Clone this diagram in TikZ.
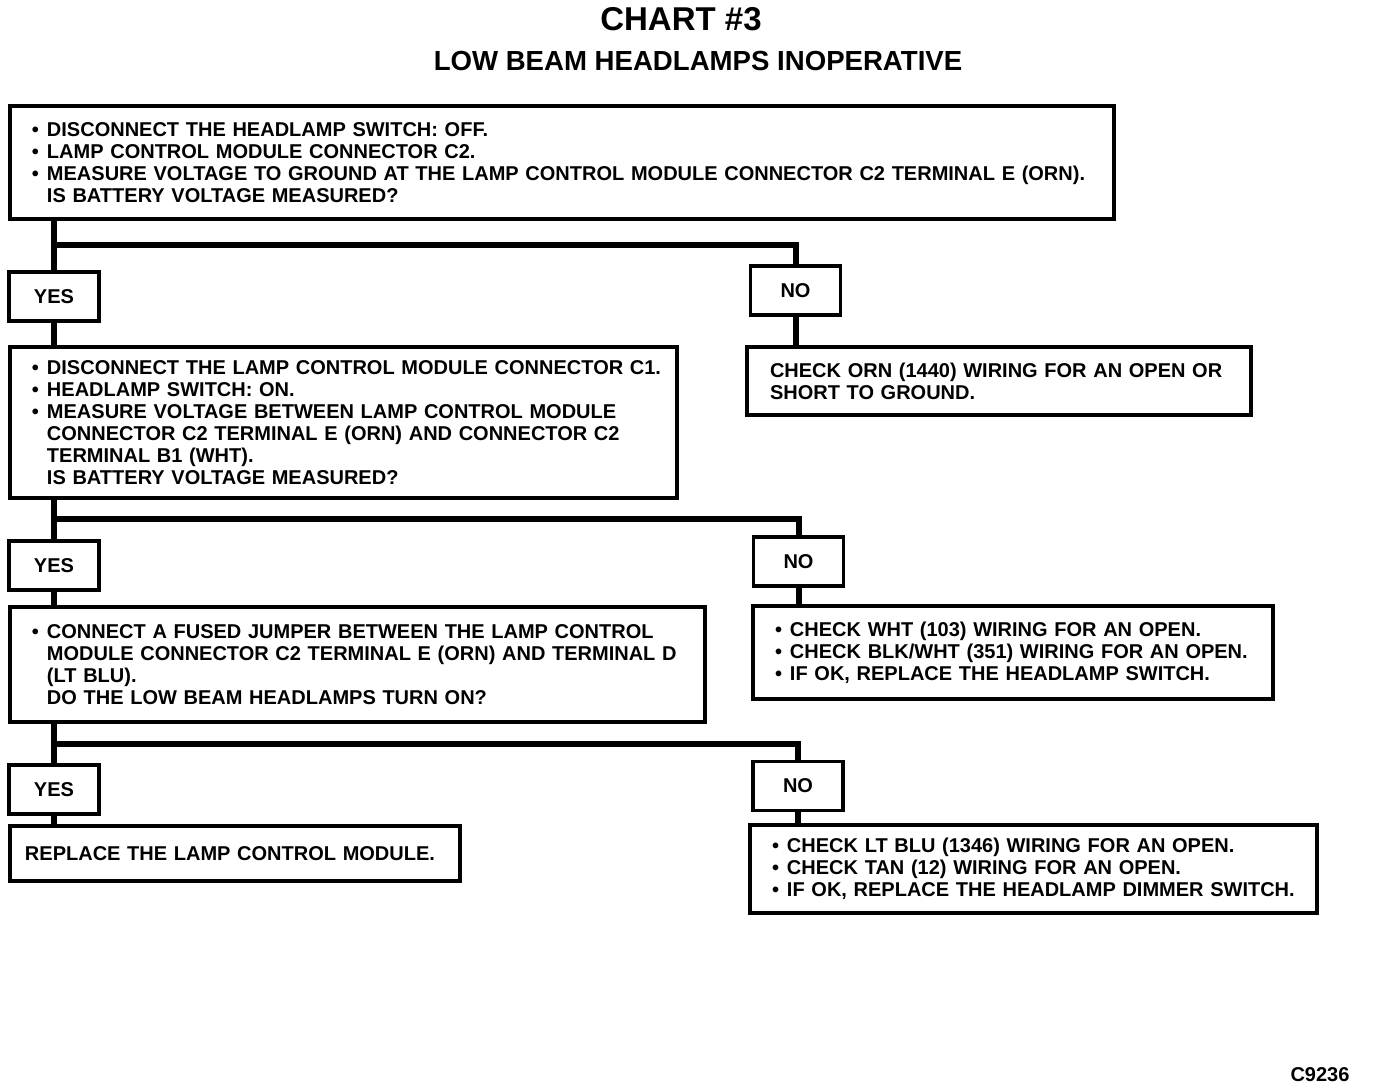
\documentclass[tikz,border=0pt]{standalone}
\usepackage{fontspec}
\setmainfont{Liberation Sans}
\newcommand{\lmpbul}{\hspace*{3.5pt}\makebox[7.5pt][l]{\textbullet}}
\newcommand{\lmpind}{\hspace*{11pt}}
\tikzset{
  stepbox/.style={draw, line width=1.7pt, anchor=north west, outer sep=0pt,
    align=left, inner xsep=7.5pt, inner ysep=0pt,
    font=\bfseries\fontsize{10}{11}\selectfont},
  answer/.style={draw, line width=1.7pt, outer sep=0pt, minimum width=45pt,
    minimum height=24.5pt, font=\bfseries\fontsize{10}{11}\selectfont},
  wire/.style={line width=3pt},
}
\begin{document}
\begin{tikzpicture}[x=0.5pt, y=-0.5pt]
				\useasboundingbox (0,0) rectangle (1376,1088);
				% title
				\node[font=\bfseries\fontsize{16.5}{18}\selectfont] (title) at (681,19) {CHART \#3};
				\node[font=\bfseries\fontsize{13.8}{15}\selectfont] (subtitle) at (698,61) {LOW BEAM HEADLAMPS INOPERATIVE};
				% first test
				\node[stepbox, text width=537pt, minimum height=56.5pt] (q1) at (10,106) {%
					\lmpbul DISCONNECT THE HEADLAMP SWITCH: OFF.\\
					\lmpbul LAMP CONTROL MODULE CONNECTOR C2.\\
					\lmpbul MEASURE VOLTAGE TO GROUND AT THE LAMP CONTROL MODULE CONNECTOR C2 TERMINAL E (ORN).\\
					\lmpind IS BATTERY VOLTAGE MEASURED?};
				\node[answer] (yes1) at (54,296.5) {YES};
				\node[answer] (no1) at (795.5,290.5) {NO};
				\node[stepbox, inner xsep=11.5pt, text width=229pt, minimum height=34pt] (r1) at (747,347) {%
					CHECK ORN (1440) WIRING FOR AN OPEN OR\\
					SHORT TO GROUND.};
				% second test
				\node[stepbox, text width=318.5pt, minimum height=75.5pt] (q2) at (10,347) {%
					\lmpbul DISCONNECT THE LAMP CONTROL MODULE CONNECTOR C1.\\
					\lmpbul HEADLAMP SWITCH: ON.\\
					\lmpbul MEASURE VOLTAGE BETWEEN LAMP CONTROL MODULE\\
					\lmpind CONNECTOR C2 TERMINAL E (ORN) AND CONNECTOR C2\\
					\lmpind TERMINAL B1 (WHT).\\
					\lmpind IS BATTERY VOLTAGE MEASURED?};
				\node[answer] (yes2) at (54,565.5) {YES};
				\node[answer] (no2) at (798.5,561.5) {NO};
				\node[stepbox, text width=245pt, minimum height=46.5pt] (r2) at (753,606) {%
					\lmpbul CHECK WHT (103) WIRING FOR AN OPEN.\\
					\lmpbul CHECK BLK/WHT (351) WIRING FOR AN OPEN.\\
					\lmpbul IF OK, REPLACE THE HEADLAMP SWITCH.};
				% third test
				\node[stepbox, text width=332.5pt, minimum height=57.5pt] (q3) at (10,607) {%
					\lmpbul CONNECT A FUSED JUMPER BETWEEN THE LAMP CONTROL\\
					\lmpind MODULE CONNECTOR C2 TERMINAL E (ORN) AND TERMINAL D\\
					\lmpind (LT BLU).\\
					\lmpind DO THE LOW BEAM HEADLAMPS TURN ON?};
				\node[answer] (yes3) at (54,789.5) {YES};
				\node[answer] (no3) at (798,786) {NO};
				\node[stepbox, text width=210pt, minimum height=27.5pt] (q4) at (10,826) {%
					REPLACE THE LAMP CONTROL MODULE.};
				\node[stepbox, text width=268.5pt, minimum height=44pt] (r3) at (750,825) {%
					\lmpbul CHECK LT BLU (1346) WIRING FOR AN OPEN.\\
					\lmpbul CHECK TAN (12) WIRING FOR AN OPEN.\\
					\lmpbul IF OK, REPLACE THE HEADLAMP DIMMER SWITCH.};
				% connectors
				\coordinate (s1) at (54,245);
				\coordinate (s2) at (54,519);
				\coordinate (s3) at (54,744);
				\draw[wire] (q1.south -| yes1.north) -- (yes1.north);
				\draw[wire] (s1) -| (no1.north);
				\draw[wire] (no1.south) -- (no1.south |- r1.north);
				\draw[wire] (yes1.south) -- (yes1.south |- q2.north);
				\draw[wire] (q2.south -| yes2.north) -- (yes2.north);
				\draw[wire] (s2) -| (no2.north);
				\draw[wire] (no2.south) -- (no2.south |- r2.north);
				\draw[wire] (yes2.south) -- (yes2.south |- q3.north);
				\draw[wire] (q3.south -| yes3.north) -- (yes3.north);
				\draw[wire] (s3) -| (no3.north);
				\draw[wire] (no3.south) -- (no3.south |- r3.north);
				\draw[wire] (yes3.south) -- (yes3.south |- q4.north);
				% figure number
				\node[font=\bfseries\fontsize{10}{11}\selectfont] (fig) at (1320,1075) {C9236};
\end{tikzpicture}
\end{document}
